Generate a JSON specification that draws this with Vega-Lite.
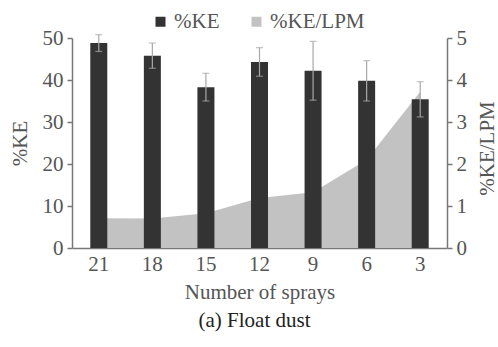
{
  "$schema": "https://vega.github.io/schema/vega-lite/v6.json",
  "width": 375,
  "height": 210,
  "autosize": {"type": "none"},
  "padding": {"left": 72, "top": 38, "right": 51, "bottom": 99},
  "background": "white",
  "config": {
    "font": "Liberation Serif",
    "view": {"stroke": null},
    "axis": {
      "labelFont": "Liberation Serif",
      "titleFont": "Liberation Serif",
      "labelFontSize": 21,
      "titleFontSize": 21,
      "titleFontWeight": "normal",
      "labelColor": "#555555",
      "titleColor": "#555555",
      "domainColor": "#777777",
      "tickColor": "#777777",
      "domainWidth": 1.5,
      "tickWidth": 1.5,
      "grid": false
    },
    "legend": {
      "labelFont": "Liberation Serif",
      "labelFontSize": 21,
      "labelColor": "#555555"
    }
  },
  "title": {
    "text": "(a) Float dust",
    "orient": "bottom",
    "anchor": "middle",
    "fontSize": 21,
    "fontWeight": "normal",
    "font": "Liberation Serif",
    "color": "#222222",
    "offset": 8,
    "dx": -5
  },
  "data": {
    "values": [
      {"sprays": 21, "ke": 48.8, "lo": 46.8, "hi": 50.8, "lpm": 0.71},
      {"sprays": 18, "ke": 45.8, "lo": 42.8, "hi": 48.8, "lpm": 0.70},
      {"sprays": 15, "ke": 38.3, "lo": 35.0, "hi": 41.6, "lpm": 0.83},
      {"sprays": 12, "ke": 44.3, "lo": 40.9, "hi": 47.7, "lpm": 1.19},
      {"sprays": 9, "ke": 42.2, "lo": 35.2, "hi": 49.2, "lpm": 1.33},
      {"sprays": 6, "ke": 39.8, "lo": 35.0, "hi": 44.6, "lpm": 2.1},
      {"sprays": 3, "ke": 35.4, "lo": 31.2, "hi": 39.6, "lpm": 3.72}
    ]
  },
  "encoding": {
    "x": {
      "field": "sprays",
      "type": "ordinal",
      "sort": [21, 18, 15, 12, 9, 6, 3],
      "scale": {"paddingInner": 0, "paddingOuter": 0},
      "axis": {
        "title": "Number of sprays",
        "labelAngle": 0,
        "ticks": false,
        "labelPadding": 5,
        "titlePadding": 7
      }
    }
  },
  "layer": [
    {
      "mark": {"type": "area", "opacity": 1},
      "encoding": {
        "x": {"field": "sprays", "type": "ordinal", "sort": [21, 18, 15, 12, 9, 6, 3], "bandPosition": 0.5},
        "y": {
          "field": "lpm",
          "type": "quantitative",
          "scale": {"domain": [0, 5]},
          "axis": {
            "orient": "right",
            "title": "%KE/LPM",
            "titleAngle": -90,
            "titleBaseline": "top",
            "titleY": 110,
            "values": [0, 1, 2, 3, 4, 5],
            "tickSize": 5,
            "labelPadding": 4,
            "titlePadding": 10
          }
        },
        "color": {
          "datum": "%KE/LPM",
          "scale": {"domain": ["%KE", "%KE/LPM"], "range": ["#333333", "#c2c2c2"]},
          "legend": {
            "title": null,
            "orient": "none",
            "legendX": 78,
            "legendY": -27,
            "direction": "horizontal",
            "symbolType": "square",
            "symbolSize": 100,
            "symbolStrokeWidth": 0,
            "columnPadding": 26,
            "labelOffset": 3,
            "padding": 0
          }
        }
      }
    },
    {
      "encoding": {
        "y": {
          "field": "ke",
          "type": "quantitative",
          "scale": {"domain": [0, 50]},
          "axis": {
            "orient": "left",
            "title": "%KE",
            "values": [0, 10, 20, 30, 40, 50],
            "tickSize": 5,
            "labelPadding": 4,
            "titlePadding": 12
          }
        }
      },
      "layer": [
        {
          "mark": {"type": "bar", "size": 17},
          "encoding": {
            "color": {"datum": "%KE"}
          }
        },
        {
          "mark": {"type": "rule", "color": "#a8a8a8", "strokeWidth": 1.2},
          "encoding": {
            "y": {"field": "lo", "type": "quantitative"},
            "y2": {"field": "hi"}
          }
        },
        {
          "mark": {"type": "tick", "color": "#a8a8a8", "size": 7, "thickness": 1.2, "orient": "horizontal"},
          "encoding": {
            "y": {"field": "hi", "type": "quantitative"}
          }
        },
        {
          "mark": {"type": "tick", "color": "#a8a8a8", "size": 7, "thickness": 1.2, "orient": "horizontal"},
          "encoding": {
            "y": {"field": "lo", "type": "quantitative"}
          }
        }
      ]
    }
  ],
  "resolve": {"scale": {"y": "independent"}}
}
